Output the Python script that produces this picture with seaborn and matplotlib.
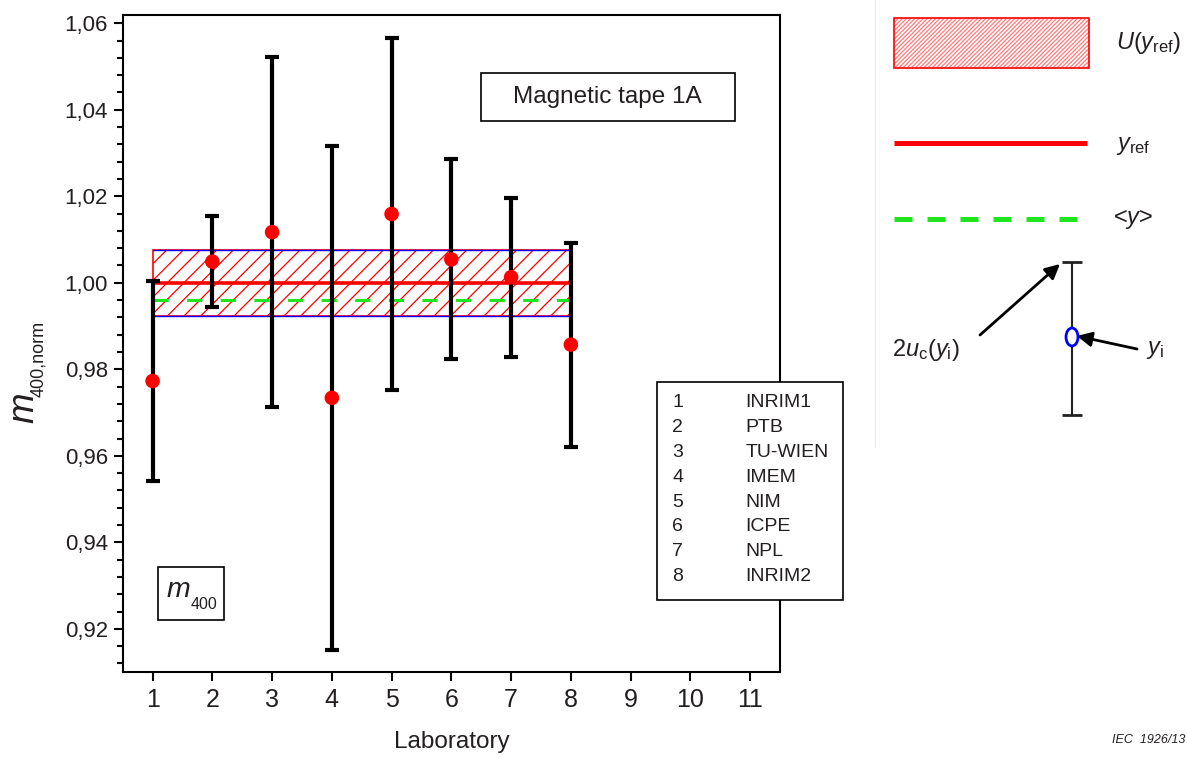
import matplotlib
matplotlib.use('Agg')
import matplotlib.pyplot as plt
import seaborn as sns
import pandas as pd
from matplotlib.patches import Rectangle, Ellipse
from matplotlib.ticker import MultipleLocator, FuncFormatter, FixedLocator, NullLocator

# ---------------- data ----------------
labs = [1, 2, 3, 4, 5, 6, 7, 8]
values = [0.9773, 1.0049, 1.0117, 0.9734, 1.0159, 1.0054, 1.0013, 0.9857]
unc2 = [0.0232, 0.0106, 0.0404, 0.0583, 0.0406, 0.0231, 0.0184, 0.0236]
lab_names = ['INRIM1', 'PTB', 'TU-WIEN', 'IMEM', 'NIM', 'ICPE', 'NPL', 'INRIM2']
y_ref = 1.0000
U_ref = 0.0076
y_mean = 0.9960
x_ticks = [1, 2, 3, 4, 5, 6, 7, 8, 9, 10, 11]
y_ticks = [0.92, 0.94, 0.96, 0.98, 1.00, 1.02, 1.04, 1.06]

sns.set_theme(style='ticks')
plt.rcParams['font.family'] = ['Liberation Sans', 'DejaVu Sans']
plt.rcParams['mathtext.fontset'] = 'custom'
plt.rcParams['mathtext.rm'] = 'Liberation Sans'
plt.rcParams['mathtext.it'] = 'Liberation Sans:italic'
plt.rcParams['mathtext.bf'] = 'Liberation Sans:bold'
plt.rcParams['hatch.linewidth'] = 0.9
TXT = '#231f20'
GREEN = '#1fe51f'

df = pd.DataFrame({'lab': labs, 'value': values, 'unc': unc2})

W, H = 1187, 758
fig = plt.figure(figsize=(W / 100, H / 100), dpi=100)
ax = fig.add_axes([122.7 / W, 1 - 671.7 / H, (780 - 122.7) / W, (671.7 - 15) / H])


def px(x, y):
    return x / W, 1 - y / H


# uncertainty band of reference value
x0, x1 = labs[0], labs[-1]
ax.add_patch(Rectangle((x0, y_ref - U_ref), x1 - x0, 2 * U_ref, facecolor='none',
                       edgecolor='red', hatch='//', lw=1.2, zorder=1))
ax.hlines([y_ref - U_ref, y_ref + U_ref], x0, x1, colors='blue', lw=1.0, zorder=1.5)
ax.hlines(y_ref, x0, x1, colors='red', lw=2.6, zorder=2)
ax.hlines(y_mean, x0, x1, colors=GREEN, lw=2.2, linestyles=[(0, (5.0, 6.0))], zorder=2)

ax.errorbar(df['lab'], df['value'], yerr=df['unc'], fmt='none', ecolor='black',
            elinewidth=3, capsize=5, capthick=3, zorder=3)
sns.scatterplot(data=df, x='lab', y='value', color='red', s=110, edgecolor='none',
                zorder=4, ax=ax, legend=False)

ax.set_xlim(0.5, 11.5)
ax.set_ylim(0.9101, 1.0619)
ax.xaxis.set_major_locator(FixedLocator(x_ticks))
ax.xaxis.set_minor_locator(NullLocator())
ax.yaxis.set_major_locator(FixedLocator(y_ticks))
ax.yaxis.set_minor_locator(MultipleLocator(0.004))
ax.yaxis.set_major_formatter(FuncFormatter(lambda v, p: f'{v:.2f}'.replace('.', ',')))
for s in ax.spines.values():
    s.set_visible(True)
    s.set_color('black')
    s.set_linewidth(1.5)
ax.tick_params(axis='both', which='major', direction='out', length=6.5, width=1.5,
               color='black', labelcolor=TXT)
ax.tick_params(axis='y', which='minor', direction='out', length=4, width=1.5, color='black')
ax.tick_params(axis='x', labelsize=18, pad=5)
ax.tick_params(axis='y', labelsize=16, pad=4)
ax.set_xlabel('Laboratory', fontsize=17.5, color=TXT, labelpad=14)
ax.set_ylabel('')

# y label drawn as main symbol + lowered subscript (rotated)
fig.text(*px(33, 423), 'm', style='italic', fontsize=26.5, color=TXT, rotation=90,
         rotation_mode='anchor', ha='left', va='baseline')
fig.text(*px(43, 397), '400,norm', fontsize=13, color=TXT, rotation=90,
         rotation_mode='anchor', ha='left', va='baseline')

# text boxes inside the axes
ax.add_patch(Rectangle((0.545, 0.8386), 0.3865, 0.0731, transform=ax.transAxes,
                       facecolor='white', edgecolor='black', lw=1.2, zorder=5))
ax.text(0.738, 0.875, 'Magnetic tape 1A', transform=ax.transAxes, fontsize=17.5,
        color=TXT, ha='center', va='center', zorder=6)

ax.add_patch(Rectangle((0.0537, 0.0787), 0.1003, 0.0807, transform=ax.transAxes,
                       facecolor='white', edgecolor='black', lw=1.2, zorder=5))
fig.text(*px(167, 597), 'm', style='italic', fontsize=20.5, color=TXT,
         ha='left', va='baseline', zorder=6)
fig.text(*px(191, 609), '400', fontsize=11.5, color=TXT, ha='left', va='baseline', zorder=6)

ax.add_patch(Rectangle((0.813, 0.1092), 0.2828, 0.3319, transform=ax.transAxes,
                       facecolor='white', edgecolor='black', lw=1.2, zorder=5, clip_on=False))
for i, (n, name) in enumerate(zip(labs, lab_names)):
    yy = 0.4092 - i * 0.03776
    ax.text(0.836, yy, str(n), transform=ax.transAxes, fontsize=14, color=TXT,
            ha='left', va='center', zorder=6, clip_on=False)
    ax.text(0.947, yy, name, transform=ax.transAxes, fontsize=14, color=TXT,
            ha='left', va='center', zorder=6, clip_on=False)

# ---------------- key panel on the right ----------------
lax = fig.add_axes([860 / W, 1 - 450 / H, 327 / W, 450 / H])
lax.set_xlim(860, 1187)
lax.set_ylim(450, 0)
lax.axis('off')
lax.plot([875, 875], [0, 447], color='#eeeeee', lw=1)

lax.add_patch(Rectangle((894, 18), 195, 50, facecolor='white', edgecolor='#ff7a7a',
                        hatch='////////', lw=0))
lax.add_patch(Rectangle((894, 18), 195, 50, facecolor='none', edgecolor='red', lw=1.2))
lax.text(1116, 43, r'$U(y_{\mathregular{ref}})$', fontsize=17, color=TXT, va='center')

lax.plot([894, 1087], [143, 143], color='red', lw=3.6, solid_capstyle='butt')
lax.text(1116, 146, r'$y_{\mathregular{ref}}$', fontsize=17, color=TXT, va='center')

lax.plot([894, 1085], [219, 219], color=GREEN, lw=3.6, dashes=(3.6, 3.0))
lax.text(1113, 219, '<$y$>', fontsize=17, color=TXT, va='center')

lax.errorbar([1071.7], [338.5], yerr=[[76.5], [76.5]], fmt='none', ecolor='#222222',
             elinewidth=1.5, capsize=7, capthick=2)
lax.add_patch(Ellipse((1072, 337), 12, 18, facecolor='white', edgecolor='blue', lw=2, zorder=5))
lax.annotate('', xy=(1060, 264), xytext=(980, 335),
             arrowprops=dict(arrowstyle='-|>', color='black', lw=2, mutation_scale=22,
                             shrinkA=0, shrinkB=0))
lax.annotate('', xy=(1077, 336), xytext=(1137, 349),
             arrowprops=dict(arrowstyle='-|>', color='black', lw=2, mutation_scale=22,
                             shrinkA=0, shrinkB=0))
lax.text(892, 350, r'2$u_{\mathregular{c}}$($y_{\mathregular{i}}$)', fontsize=17, color=TXT,
         va='center')
lax.text(1146, 350, r'$y_{\mathregular{i}}$', fontsize=17, color=TXT, va='center')

fig.text(1185 / W, 1 - 740 / H, 'IEC  1926/13', style='italic', fontsize=9,
         color=TXT, ha='right', va='center')

fig.savefig('out.png', dpi=100)
